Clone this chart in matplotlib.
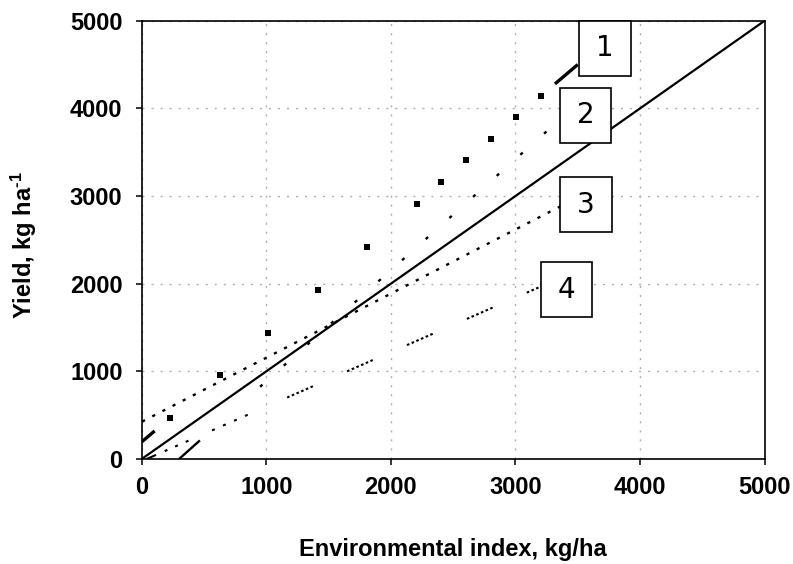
import matplotlib
matplotlib.use("Agg")
import matplotlib.pyplot as plt
from matplotlib.patches import Rectangle

plt.rcParams['lines.scale_dashes'] = False
plt.rcParams['font.family'] = ['Liberation Sans', 'DejaVu Sans']
plt.rcParams['mathtext.fontset'] = 'custom'
plt.rcParams['mathtext.rm'] = 'Liberation Sans:bold'
plt.rcParams['mathtext.it'] = 'Liberation Sans:bold'
plt.rcParams['mathtext.bf'] = 'Liberation Sans:bold'

# ---------------- data ----------------
x_ticks = [0, 1000, 2000, 3000, 4000, 5000]
y_ticks = [0, 1000, 2000, 3000, 4000, 5000]

# 1:1 reference line
ref_x = [0, 5000]
ref_y = [0, 5000]

line1_x = [224, 625, 1016, 1412, 1811, 2212, 2404, 2604, 2804, 3005, 3205]
line1_y = [466, 953, 1441, 1928, 2415, 2906, 3158, 3410, 3650, 3902, 4142]
line1_start_x = [0, 104]
line1_start_y = [195, 320]
line1_end_x = [3317, 3500]
line1_end_y = [4279, 4500]

# lines 2-4 (end points)
line2_x = [300, 3500]
line2_y = [0, 4055]
line3_x = [0, 3500]
line3_y = [424, 2984]
line4_x = [40, 3500]
line4_y = [0, 2152]

labels = ['1', '2', '3', '4']
label_x = [3717, 3563, 3566, 3411]
label_y = [4686, 3919, 2898, 1930]

# ---------------- style helpers ----------------
PX = 0.72  # points per pixel at 100 dpi

def px(seq):
    return [v * PX for v in seq]

dash2 = px([27.9, 80.6] + [3.2, 28.5] * 14)
dash3 = (10.9 * PX, px([3.2, 8.2]))
dash4_head = px([10.2, 9.4, 3, 8.4, 3, 8.6, 3, 25.7, 3, 9, 3, 9, 3, 9, 3, 3000])
bead = [2.6, 2.5] * 5 + [2.6, 37.3]
dash4_tail = (42.9 * PX, px(bead))

fig = plt.figure(figsize=(7.93, 5.64), dpi=100)
ax = fig.add_axes([0.1787, 0.1862, 0.7856, 0.7771])

ax.set_xlim(0, 5000)
ax.set_ylim(0, 5000)
ax.set_xticks(x_ticks)
ax.set_yticks(y_ticks)
ax.set_xticklabels([str(v) for v in x_ticks])
ax.set_yticklabels([str(v) for v in y_ticks])

for s in ax.spines.values():
    s.set_linewidth(1.2)
    s.set_color('black')

ax.tick_params(axis='both', direction='out', length=4.3, width=1.1,
               labelsize=17, colors='black')
ax.tick_params(axis='x', pad=8.3)
ax.tick_params(axis='y', pad=9.5)
for lab in ax.get_xticklabels() + ax.get_yticklabels():
    lab.set_fontweight('bold')

ax.grid(True, color='#b0b0b0', linewidth=1.0, linestyle=(0, (1.5, 5)))
ax.set_axisbelow(True)

# reference line
ax.plot(ref_x, ref_y, color='black', linewidth=1.6, solid_capstyle='butt', zorder=3)

# line 1
ax.plot(line1_x, line1_y, linestyle='none', marker='s', markersize=4.2,
        markeredgewidth=0, color='black', zorder=3)
ax.plot(line1_start_x, line1_start_y, color='black', linewidth=2.4,
        solid_capstyle='butt', zorder=3)
ax.plot(line1_end_x, line1_end_y, color='black', linewidth=2.4,
        solid_capstyle='butt', zorder=3)

# line 2
l2, = ax.plot(line2_x, line2_y, color='black', linewidth=1.7, zorder=3)
l2.set_dashes(dash2)
l2.set_dash_capstyle('butt')
# line 3
l3, = ax.plot(line3_x, line3_y, color='black', linewidth=1.7, zorder=3,
              linestyle=dash3)
l3.set_dash_capstyle('butt')
# line 4 (head pattern + beaded dashes further along)
l4a, = ax.plot(line4_x, line4_y, color='black', linewidth=1.5, zorder=3)
l4a.set_dashes(dash4_head)
l4a.set_dash_capstyle('butt')
l4b, = ax.plot(line4_x, line4_y, color='black', linewidth=1.5, zorder=3,
               linestyle=dash4_tail)
l4b.set_dash_capstyle('butt')
clip = Rectangle((1100, 0), 3900, 5000, transform=ax.transData)
l4b.set_clip_path(clip)

# label boxes
bw, bh = 413, 627
for t, cx, cy in zip(labels, label_x, label_y):
    ax.add_patch(Rectangle((cx - bw / 2, cy - bh / 2), bw, bh, facecolor='white',
                           edgecolor='black', linewidth=1.2, zorder=5, clip_on=False))
    ax.text(cx, cy, t, ha='center', va='center', fontsize=20,
            family='DejaVu Sans', zorder=6)

fig.text(453 / 793, 1 - 556 / 564, 'Environmental index, kg/ha', ha='center',
         va='baseline', fontsize=17, fontweight='bold')
fig.text(24 / 793, 1 - 245 / 564, r'Yield, kg ha$^{\text{-1}}$', rotation=90,
         ha='center', va='center', fontsize=17, fontweight='bold')

fig.savefig('out.png', dpi=100)
